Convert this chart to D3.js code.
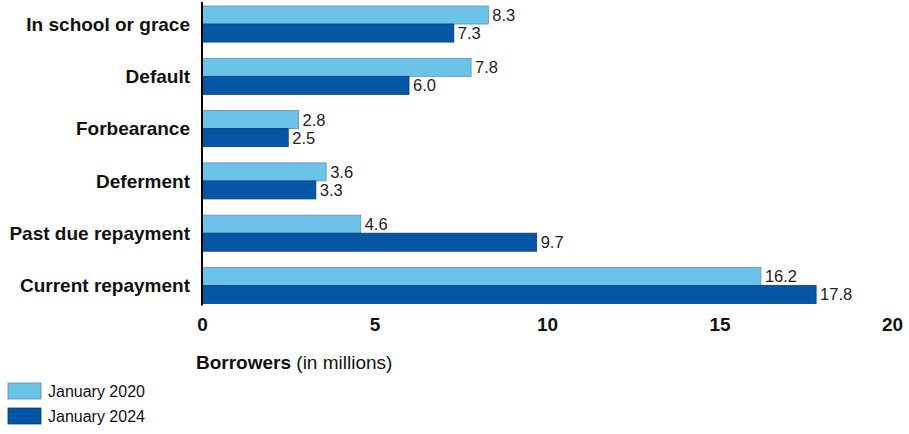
<!DOCTYPE html>
<html>
<head>
<meta charset="utf-8">
<script src="https://cdn.jsdelivr.net/npm/d3@7"></script>
<style>
  body { margin: 0; background: #fff; }
  svg { font-family: "Liberation Sans", Arial, sans-serif; display: block; }
</style>
</head>
<body>
<div id="chart"></div>
<script>
// data
var categories = ["In school or grace", "Default", "Forbearance", "Deferment", "Past due repayment", "Current repayment"];
var jan2020 = [8.3, 7.8, 2.8, 3.6, 4.6, 16.2];
var jan2024 = [7.3, 6.0, 2.5, 3.3, 9.7, 17.8];
var seriesNames = ["January 2020", "January 2024"];
var xTicks = [0, 5, 10, 15, 20];

var colors = ["#6cc3ea", "#0656a6"];

var svgWidth = 909, svgHeight = 434;
var margin = { top: 6, left: 202, right: 17 };

var svg = d3.select("#chart").append("svg")
    .attr("width", svgWidth)
    .attr("height", svgHeight);

var chartGroup = svg.append("g")
    .attr("transform", `translate(${margin.left}, ${margin.top})`);

var xScale = d3.scaleLinear().domain([0, 20]).range([0, 690]);

// band per category, inner band per series
var yScale = d3.scaleBand()
    .domain(categories)
    .range([0, 297.5])
    .paddingInner(0.31)
    .paddingOuter(0);

var ySub = d3.scaleBand()
    .domain([0, 1])
    .range([0, yScale.bandwidth()]);

var rows = categories.map(function(c, i) {
  return { cat: c, vals: [jan2020[i], jan2024[i]] };
});

var blocks = chartGroup.selectAll("g.row")
  .data(rows)
  .enter()
  .append("g")
  .attr("class", "row")
  .attr("transform", d => `translate(0, ${yScale(d.cat)})`);

blocks.selectAll("rect")
  .data(d => d.vals)
  .enter()
  .append("rect")
  .attr("x", 0)
  .attr("y", (d, i) => ySub(i))
  .attr("width", d => xScale(d))
  .attr("height", ySub.bandwidth())
  .attr("fill", (d, i) => colors[i])
  .attr("stroke", (d, i) => i === 0 ? "#6a8fa8" : "#0a3d78")
  .attr("stroke-width", 0.8);

blocks.selectAll("text.val")
  .data(d => d.vals)
  .enter()
  .append("text")
  .attr("class", "val")
  .attr("x", d => xScale(d) + 4)
  .attr("y", (d, i) => ySub(i) + ySub.bandwidth() / 2)
  .attr("dy", "0.36em")
  .style("font-size", "16.5px")
  .attr("fill", "#222")
  .text(d => d.toFixed(1));

// category labels
chartGroup.selectAll("text.cat")
  .data(categories)
  .enter()
  .append("text")
  .attr("class", "cat")
  .attr("x", -12)
  .attr("y", d => yScale(d) + yScale.bandwidth() / 2)
  .attr("dy", "0.36em")
  .attr("text-anchor", "end")
  .style("font-size", "19px")
  .style("font-weight", "bold")
  .attr("fill", "#111")
  .text(d => d);

// y axis line
var chartBottom = yScale.range()[1];
chartGroup.append("line")
  .attr("x1", 0).attr("x2", 0)
  .attr("y1", -4).attr("y2", chartBottom + 2)
  .attr("stroke", "#000")
  .attr("stroke-width", 2);

// x axis, labels only
var bottomAxis = d3.axisBottom(xScale).tickValues(xTicks).tickSize(0).tickPadding(0);
var xAxisG = chartGroup.append("g")
  .attr("transform", `translate(0, ${chartBottom + 14})`)
  .call(bottomAxis);
xAxisG.select(".domain").remove();
xAxisG.selectAll("text")
  .style("font-size", "19px")
  .style("font-weight", "bold")
  .style("font-family", "'Liberation Sans', Arial, sans-serif")
  .attr("fill", "#111");

// axis title
var title = svg.append("text")
  .attr("x", 196)
  .attr("y", 369)
  .style("font-size", "19px")
  .attr("fill", "#111");
title.append("tspan").style("font-weight", "bold").text("Borrowers");
title.append("tspan").text(" (in millions)");

// legend
var legend = svg.selectAll("g.legend")
  .data(seriesNames)
  .enter()
  .append("g")
  .attr("class", "legend")
  .attr("transform", (d, i) => `translate(8, ${383 + i * 25})`);

legend.append("rect")
  .attr("width", 33)
  .attr("height", 16)
  .attr("fill", (d, i) => colors[i])
  .attr("stroke", (d, i) => i === 0 ? "#5a8fb0" : "#0a3d78")
  .attr("stroke-width", 0.8);

legend.append("text")
  .attr("x", 40)
  .attr("y", 8)
  .attr("dy", "0.36em")
  .style("font-size", "16px")
  .attr("fill", "#111")
  .text(d => d);
</script>
</body>
</html>
